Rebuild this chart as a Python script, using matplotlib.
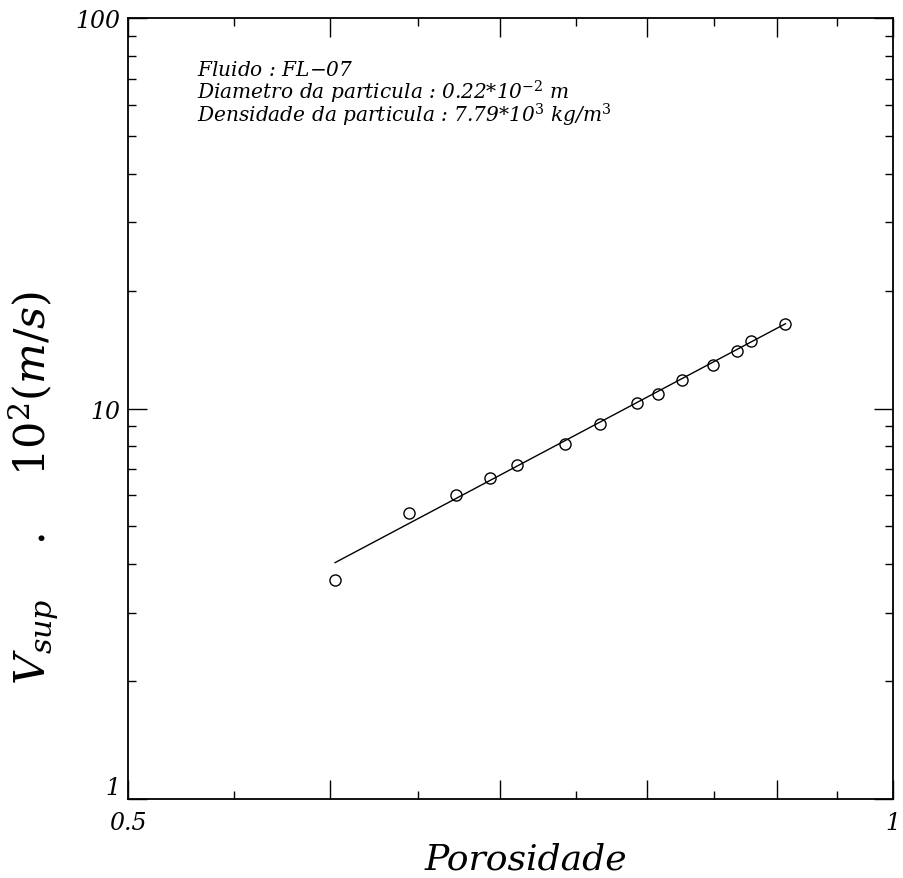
import matplotlib
matplotlib.use("Agg")
import matplotlib.pyplot as plt
from matplotlib.ticker import FixedLocator, NullFormatter, LogLocator

# measured points (porosity, superficial velocity *10^2 m/s)
porosidade = [0.603, 0.645, 0.673, 0.694, 0.711, 0.743, 0.767,
              0.793, 0.808, 0.826, 0.849, 0.868, 0.879, 0.907]
v_sup = [3.63, 5.40, 6.01, 6.65, 7.16, 8.12, 9.15,
         10.31, 10.93, 11.86, 12.90, 14.08, 14.86, 16.51]

# fitted straight line (log-log), end points
fit_x = [0.603, 0.907]
fit_y = [4.03, 16.5]

x_ticks = [0.5, 0.6, 0.7, 0.8, 0.9, 1.0]
x_tick_labels = ["0.5", "", "", "", "", "1"]
y_ticks = [1, 10, 100]
y_tick_labels = ["1", "10", "100"]

info_lines = [
    r"Fluido : FL$-$07",
    r"Diametro da particula : 0.22*10$^{-2}$ m",
    r"Densidade da particula : 7.79*10$^{3}$ kg/m$^{3}$",
]

plt.rcParams["font.family"] = "DejaVu Serif"
plt.rcParams["mathtext.fontset"] = "dejavuserif"
plt.rcParams["mathtext.default"] = "it"

fig = plt.figure(figsize=(9.04, 8.79), dpi=100)
ax = fig.add_axes([0.142, 0.09, 0.846, 0.888])

ax.plot(fit_x, fit_y, color="k", linewidth=1.0)
ax.plot(porosidade, v_sup, linestyle="none", marker="o", markersize=8,
        markerfacecolor="none", markeredgecolor="k", markeredgewidth=1.0)

ax.set_xscale("log")
ax.set_yscale("log")
ax.set_xlim(0.5, 1.0)
ax.set_ylim(1, 100)

ax.xaxis.set_major_locator(FixedLocator(x_ticks))
ax.set_xticklabels(x_tick_labels)
ax.xaxis.set_minor_locator(FixedLocator([0.55, 0.65, 0.75, 0.85, 0.95]))
ax.xaxis.set_minor_formatter(NullFormatter())
ax.yaxis.set_major_locator(FixedLocator(y_ticks))
ax.set_yticklabels(y_tick_labels)
ax.yaxis.set_minor_locator(LogLocator(base=10, subs=range(2, 10)))
ax.yaxis.set_minor_formatter(NullFormatter())

ax.tick_params(which="both", direction="in", top=True, right=True,
               width=1.0, color="k")
ax.tick_params(which="major", length=14)
ax.tick_params(which="minor", length=6)
ax.tick_params(axis="both", labelsize=17)
for lab in ax.get_xticklabels() + ax.get_yticklabels():
    lab.set_fontstyle("italic")
ax.tick_params(axis="x", pad=9)
ax.tick_params(axis="y", pad=6)
ax.get_yticklabels()[0].set_verticalalignment("bottom")

for s in ax.spines.values():
    s.set_linewidth(1.3)

for i, line in enumerate(info_lines):
    ax.text(0.09, 0.935 - i * 0.029, line, transform=ax.transAxes,
            fontsize=14.5, fontstyle="italic", va="center", ha="left")

ax.set_xlabel("Porosidade", fontsize=26, fontstyle="italic")
ax.xaxis.set_label_coords(0.52, -0.055)
ax.set_ylabel(r"$V_{sup}$    .    $10^2(m/s)$", fontsize=31)
ax.yaxis.set_label_coords(-0.088, 0.40)

fig.savefig("out.png", dpi=100)
